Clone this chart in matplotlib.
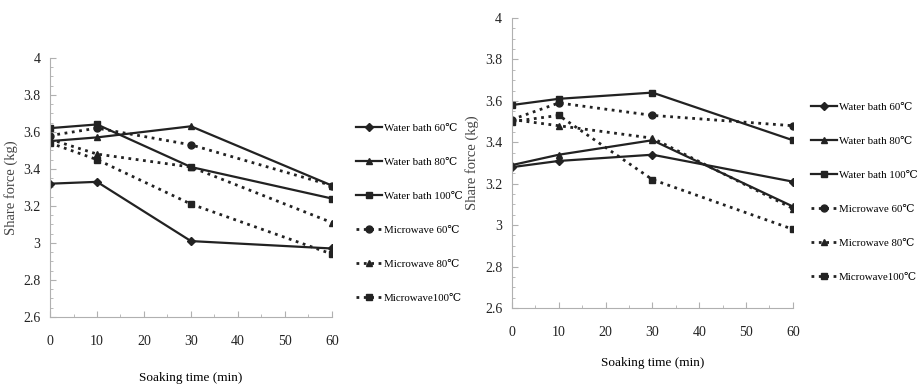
import matplotlib.pyplot as plt
from matplotlib.ticker import MultipleLocator

plt.rcParams['font.family'] = ['Liberation Serif', 'DejaVu Serif', 'DejaVu Sans']

# soaking time (min)
time = [0, 10, 30, 60]

labels = ['Water bath 60℃', 'Water bath 80℃', 'Water bath 100℃',
          'Microwave 60℃', 'Microwave 80℃', 'Microwave100℃']

# left panel, share force (kg)
left_wb60 = [3.32, 3.33, 3.01, 2.97]
left_wb80 = [3.55, 3.57, 3.63, 3.31]
left_wb100 = [3.62, 3.64, 3.41, 3.24]
left_mw60 = [3.58, 3.62, 3.53, 3.31]
left_mw80 = [3.56, 3.48, 3.41, 3.11]
left_mw100 = [3.54, 3.45, 3.21, 2.94]

# right panel, share force (kg)
right_wb60 = [3.28, 3.31, 3.34, 3.21]
right_wb80 = [3.29, 3.34, 3.41, 3.09]
right_wb100 = [3.58, 3.61, 3.64, 3.41]
right_mw60 = [3.51, 3.59, 3.53, 3.48]
right_mw80 = [3.51, 3.48, 3.42, 3.08]
right_mw100 = [3.50, 3.53, 3.22, 2.98]

markers = ['D', '^', 's', 'o', '^', 's']
styles = ['-', '-', '-', ':', ':', ':']

fig = plt.figure(figsize=(9.18, 3.84), dpi=100)
ax1 = fig.add_axes([0.0545, 0.1745, 0.307, 0.675])
ax2 = fig.add_axes([0.5577, 0.198, 0.306, 0.755])


def draw(ax, series, xlab_pad, leg_x):
    for vals, lab, m, ls in zip(series, labels, markers, styles):
        ax.plot(time, vals, linestyle=ls, marker=m, color='#222222',
                linewidth=1.6 if ls == '-' else 2.0,
                markersize=5 if m != 'D' else 4, label=lab)
    ax.set_xlim(0, 60)
    ax.set_ylim(2.6, 4.0)
    ax.xaxis.set_major_locator(MultipleLocator(10))
    ax.xaxis.set_minor_locator(MultipleLocator(5))
    ax.yaxis.set_major_locator(MultipleLocator(0.2))
    ax.yaxis.set_minor_locator(MultipleLocator(0.05))
    ax.yaxis.set_major_formatter(lambda v, p: f'{v:g}')
    for s in ['top', 'right']:
        ax.spines[s].set_visible(False)
    for s in ['left', 'bottom']:
        ax.spines[s].set_color('#b0b0b0')
    ax.tick_params(which='both', direction='in', color='#b0b0b0',
                   labelsize=10, labelcolor='#222222')
    ax.tick_params(which='major', length=4)
    ax.tick_params(which='minor', length=2)
    ax.tick_params(axis='x', pad=13)
    ax.tick_params(axis='y', pad=7)
    ax.set_xlabel('Soaking time (min)', fontsize=9.5, labelpad=xlab_pad)
    ax.set_ylabel('Share force (kg)', fontsize=10.5, color='#444444')
    ax.legend(loc='center left', bbox_to_anchor=(leg_x, 0.40), frameon=False,
              fontsize=7.8, labelspacing=2.25, handlelength=2.4,
              handletextpad=0.15, borderaxespad=0)


draw(ax1, [left_wb60, left_wb80, left_wb100, left_mw60, left_mw80, left_mw100], 17, 1.07)
draw(ax2, [right_wb60, right_wb80, right_wb100, right_mw60, right_mw80, right_mw100], 13, 1.05)

fig.savefig('out.png', dpi=100)
